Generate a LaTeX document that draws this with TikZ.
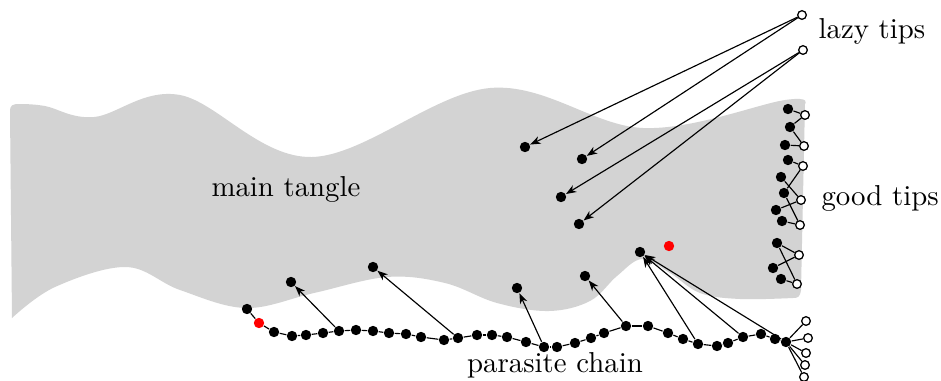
\documentclass[tikz,border=0pt]{standalone}
\usetikzlibrary{arrows.meta}
\definecolor{tanglegray}{RGB}{211,211,211}
\begin{document}
\begin{tikzpicture}[x=0.347pt,y=-0.347pt,
  bdot/.style={circle,fill=black,inner sep=0pt,minimum size=3.6pt},
  rdot/.style={circle,fill=red,inner sep=0pt,minimum size=3.6pt},
  wdot/.style={circle,draw=black,fill=white,inner sep=0pt,minimum size=3.0pt,line width=0.45pt},
  arr/.style={-{Stealth[length=3.6pt,width=2.7pt,inset=1.1pt]}},
  lbl/.style={inner sep=0pt}]
\useasboundingbox (0,0) rectangle (941,380);

% main tangle region
\fill[tanglegray]
  (10,112) .. controls (10,105) and (12,104) .. (20,104)
  -- plot[smooth,tension=0.6] coordinates {(20,104) (45,106) (94,117) (180,95) (312,157) (490,88) (643,128) (785,100) (805,104)}
  -- (801,290) .. controls (800,297) and (798,298) .. (793,298)
  -- plot[smooth,tension=0.6] coordinates {(793,298) (740,299) (700,293) (670,273) (642,259) (617,276) (590,301) (549,311) (497,303) (445,283) (387,277) (314,293) (246,308) (180,290) (126,267) (55,287) (12,318)}
  -- cycle;

% labels
\node[lbl,anchor=base west] (lazylbl) at (818,38) {lazy tips};
\node[lbl,anchor=base west] (goodlbl) at (821,205) {good tips};
\node[lbl,anchor=base] (mainlbl) at (286,196) {main tangle};
\node[lbl,anchor=base] (paralbl) at (555,372) {parasite chain};

% lazy tips and their targets
\node[wdot] (L1) at (802,15) {};
\node[wdot] (L2) at (803,50) {};
\foreach \n/\x/\y in {a1/525/147, a2/582/159, a3/561/197, a4/579/224,
  t1/291/282, t2/373/267, t3/517/288, t4/585/276, t5/640/252}
  \node[bdot] (\n) at (\x,\y) {};
\node[rdot] (R) at (669,246) {};

\draw[arr] (L1) -- (a1);
\draw[arr] (L1) -- (a2);
\draw[arr] (L2) -- (a3);
\draw[arr] (L2) -- (a4);

% good tips
\foreach \n/\x/\y in {b1/788/109, b2/790/127, b3/785/145, b4/788/160, b5/781/177,
  b6/784/193, b7/776/210, b8/782/221, b9/777/243, b10/773/268, b11/781/279}
  \node[bdot] (\n) at (\x,\y) {};
\foreach \n/\x/\y in {w1/805/115, w2/804/146, w3/803/166, w4/801/200, w5/800/225,
  w6/799/255, w7/797/284}
  \node[wdot] (\n) at (\x,\y) {};
\foreach \a/\b in {w1/b1, w1/b2, w2/b2, w2/b3, w3/b4, w3/b6, w4/b5, w4/b7,
  w5/b6, w5/b8, w6/b9, w6/b10, w7/b9, w7/b11}
  \draw (\a) -- (\b);

% parasite chain
\node[bdot] (p0) at (247,309) {};
\node[rdot] (r) at (259,323) {};
\foreach \n/\x/\y in {p1/274/332, p2/292/336, p3/306/335, p4/323/333, p5/339/331,
  p6/356/330, p7/373/331, p8/389/333, p9/406/334, p10/421/337, p11/444/340,
  p12/458/338, p13/477/335, p14/492/335, p15/507/337, p16/526/342, p17/544/347,
  p18/557/347, p19/575/343, p20/591/338, p21/604/333, p22/626/326, p23/648/326,
  p24/668/333, p25/683/339, p26/698/344, p27/717/346, p28/728/343, p29/743/337,
  p30/761/334, p31/775/339, p32/786/342}
  \node[bdot] (\n) at (\x,\y) {};
\foreach \n/\x/\y in {f1/806/321, f2/808/338, f3/806/353, f4/805/365, f5/804/377}
  \node[wdot] (\n) at (\x,\y) {};

\foreach \a/\b in {p0/r, r/p1, p1/p2, p2/p3, p3/p4, p4/p5, p5/p6, p6/p7, p7/p8,
  p8/p9, p9/p10, p10/p11, p11/p12, p12/p13, p13/p14, p14/p15, p15/p16, p16/p17,
  p17/p18, p18/p19, p19/p20, p20/p21, p21/p22, p22/p23, p23/p24, p24/p25,
  p25/p26, p26/p27, p27/p28, p28/p29, p29/p30, p30/p31, p31/p32}
  \draw (\a) -- (\b);
\foreach \f in {f1,f2,f3,f4,f5}
  \draw (p32) -- (\f);

% parasite chain referencing the tangle
\draw[arr] (p5) -- (t1);
\draw[arr] (p12) -- (t2);
\draw[arr] (p17) -- (t3);
\draw[arr] (p22) -- (t4);
\draw[arr] (p26) -- (t5);
\draw[arr] (p29) -- (t5);
\draw[arr] (p32) -- (t5);
\end{tikzpicture}
\end{document}
